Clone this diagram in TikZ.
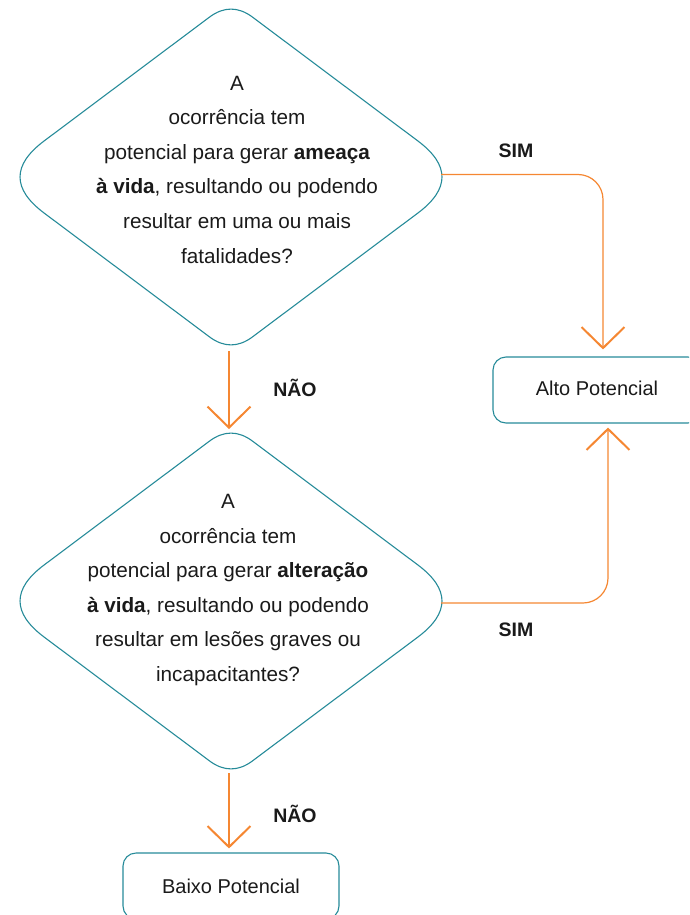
\documentclass[tikz,border=0pt]{standalone}
\usepackage{fontspec}
\setmainfont{Liberation Sans}
\usetikzlibrary{calc,arrows.meta}
\definecolor{tealc}{RGB}{38,139,153}
\definecolor{orangec}{RGB}{245,135,50}
\definecolor{txt}{RGB}{26,26,26}
\newcommand{\rdiam}[5]{%
\draw[tealline] ($(#1T)!#2!(#1R)$) -- ($(#1R)!#4!(#1T)$)
 .. controls ($(#1R)!#5!(#1T)$) and ($(#1R)!#5!(#1B)$) .. ($(#1R)!#4!(#1B)$)
 -- ($(#1B)!#2!(#1R)$)
 .. controls ($(#1B)!#3!(#1R)$) and ($(#1B)!#3!(#1L)$) .. ($(#1B)!#2!(#1L)$)
 -- ($(#1L)!#4!(#1B)$)
 .. controls ($(#1L)!#5!(#1B)$) and ($(#1L)!#5!(#1T)$) .. ($(#1L)!#4!(#1T)$)
 -- ($(#1T)!#2!(#1L)$)
 .. controls ($(#1T)!#3!(#1L)$) and ($(#1T)!#3!(#1R)$) .. ($(#1T)!#2!(#1R)$) -- cycle;}
\tikzset{
  tealline/.style={draw=tealc,line width=1.1pt},
  qtext/.style={align=center,text=txt,font=\fontsize{20.7}{34.6}\selectfont,inner sep=0pt},
  resbox/.style={draw=tealc,line width=1.1pt,rounded corners=13pt,minimum width=208pt,minimum height=66pt,text=txt,font=\fontsize{20}{24}\selectfont,inner sep=0pt},
  lbl/.style={text=txt,font=\fontsize{19.5}{23}\selectfont\bfseries,inner sep=0pt},
  conn/.style={draw=orangec,line width=1.2pt,-{Straight Barb[length=21pt,width=43pt,line width=2pt 0]}}
}
\begin{document}
\begin{tikzpicture}[x=1pt,y=-1pt]
\useasboundingbox (0,0) rectangle (689,915);
\clip (0,0) rectangle (689,915);
% diamond 1
\coordinate (d1T) at (231,1);
\coordinate (d1R) at (466,177);
\coordinate (d1B) at (231,353);
\coordinate (d1L) at (-4,177);
\rdiam{d1}{27pt}{9pt}{60pt}{20pt}
\node[qtext] (d1) at (237,169.5) {A\\ocorrência tem\\potencial para gerar \textbf{ameaça}\\\textbf{à vida}, resultando ou podendo\\resultar em uma ou mais\\fatalidades?};
% diamond 2
\coordinate (d2T) at (231,425);
\coordinate (d2R) at (466,601);
\coordinate (d2B) at (231,777);
\coordinate (d2L) at (-4,601);
\rdiam{d2}{27pt}{9pt}{60pt}{20pt}
\node[qtext] (d2) at (228,590) {A\\ocorrência tem\\potencial para gerar \textbf{alteração}\\\textbf{à vida}, resultando ou podendo\\resultar em lesões graves ou\\incapacitantes?};
% result boxes
\node[resbox] (alto) at (597,390) {\raisebox{3pt}{Alto Potencial}};
\node[resbox,minimum width=216pt] (baixo) at (231,886) {Baixo Potencial};
% connector anchors
\coordinate (d1S) at (229,351);
\coordinate (d1E) at (441,174.5);
\coordinate (d2S) at (229,773);
\coordinate (d2E) at (441,603);
% connectors
\draw[conn] (d1S) -- ($(d2T)+(-2,4)$);
\draw[conn,rounded corners=25pt] (d1E) -| ([xshift=6pt,yshift=7pt]alto.north);
\draw[conn,rounded corners=25pt] (d2E) -| ([xshift=11pt,yshift=-4pt]alto.south);
\draw[conn] (d2S) -- ([xshift=-2pt,yshift=4pt]baixo.north);
% labels
\node[lbl] (nao1) at (295,388) {NÃO};
\node[lbl] (nao2) at (295,814) {NÃO};
\node[lbl] (sim1) at (516,151) {SIM};
\node[lbl] (sim2) at (516,630) {SIM};
\end{tikzpicture}
\end{document}
